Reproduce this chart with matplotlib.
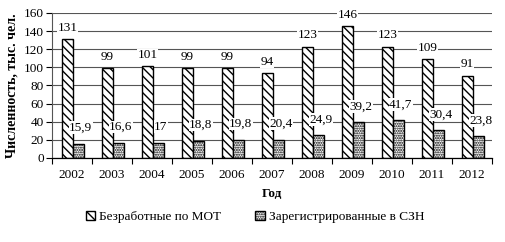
import matplotlib.pyplot as plt
import numpy as np

plt.rcParams['font.family'] = ['Liberation Serif', 'DejaVu Serif']
plt.rcParams['hatch.linewidth'] = 1.0

years = ['2002', '2003', '2004', '2005', '2006', '2007', '2008', '2009', '2010', '2011', '2012']
mot = [131, 99, 101, 99, 99, 94, 123, 146, 123, 109, 91]
szn = [15.9, 16.6, 17, 18.8, 19.8, 20.4, 24.9, 39.2, 41.7, 30.4, 23.8]
szn_labels = ['15,9', '16,6', '17', '18,8', '19,8', '20,4', '24,9', '39,2', '41,7', '30,4', '23,8']

fs = 9.5

fig = plt.figure(figsize=(5.06, 2.42), dpi=100)
ax = fig.add_axes([52 / 506, (242 - 158) / 242, 440 / 506, 145 / 242])

x = np.arange(len(years))
w = 0.28
b1 = ax.bar(x - 0.115, mot, w, color='white', edgecolor='black', hatch='\\' * 4, linewidth=1.0,
            label='Безработные по МОТ', zorder=2)
b2 = ax.bar(x + 0.165, szn, w, color='white', edgecolor='black', hatch='.' * 7, linewidth=1.0,
            label='Зарегистрированные в СЗН', zorder=2)

# подписи значений
for xi, v in zip(x, mot):
    ax.annotate(str(v), (xi - 0.115, v), xytext=(0, 8), textcoords='offset points',
                ha='center', va='center', fontsize=fs,
                bbox=dict(facecolor='white', edgecolor='none', pad=0.3), zorder=4)
for xi, v, s in zip(x, szn, szn_labels):
    ax.annotate(s, (xi + 0.22, v), xytext=(0, 11.5), textcoords='offset points',
                ha='center', va='center', fontsize=fs,
                bbox=dict(facecolor='white', edgecolor='none', pad=0.3), zorder=4)

ax.set_xlim(-0.5, len(years) - 0.5)
ax.set_ylim(0, 160)
ax.set_yticks(range(0, 161, 20))
ax.yaxis.grid(True, color='#555555', linewidth=0.8, zorder=0)
ax.set_axisbelow(True)
ax.set_xticks(x)
ax.set_xticklabels(years)
ax.set_xticks(np.arange(-0.5, len(years), 1), minor=True)
ax.tick_params(axis='x', which='major', length=0, pad=8, labelsize=fs)
ax.tick_params(axis='x', which='minor', length=4, width=0.8, direction='out')
ax.tick_params(axis='y', length=4, width=0.8, labelsize=fs, pad=2)
for sp in ['top', 'right']:
    ax.spines[sp].set_visible(False)
ax.spines['left'].set_color('#555555')
ax.spines['bottom'].set_linewidth(0.9)

ax.set_ylabel('Численность, тыс. чел.', fontsize=10, fontweight='bold', labelpad=4)
ax.set_xlabel('Год', fontsize=fs, fontweight='bold', labelpad=5)

fig.legend(handles=[b1, b2], loc='center', bbox_to_anchor=(255 / 506, 1 - 217 / 242), ncol=2,
           frameon=False, fontsize=fs, handlelength=0.7, handleheight=0.7, handletextpad=0.3,
           columnspacing=2.6)

fig.savefig('out.png', dpi=100)
